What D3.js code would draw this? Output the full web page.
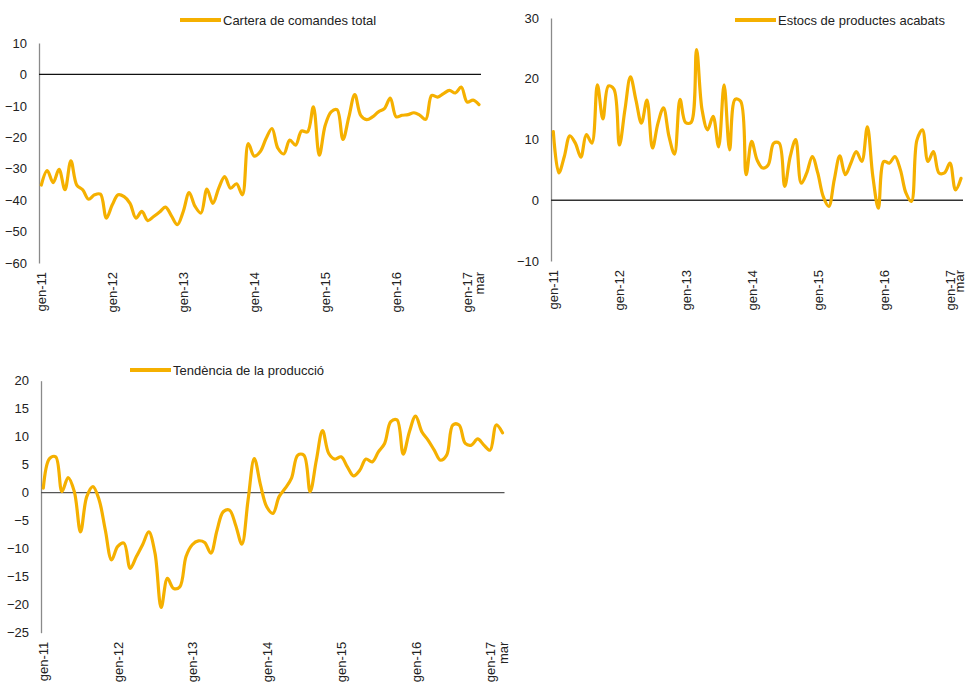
<!DOCTYPE html>
<html lang="ca">
<head>
<meta charset="utf-8">
<title>Indicadors de la indústria</title>
<script src="https://cdn.jsdelivr.net/npm/d3@7"></script>
<style>
  body { margin: 0; background: #fff; }
  svg { display: block; font-family: "Liberation Sans", Arial, sans-serif; }
  text { fill: #222; }
</style>
</head>
<body>
<svg id="chart" width="966" height="685"></svg>
<script>
// monthly categories, gen-11 .. mar-17
var monthNames = ['gen', 'feb', 'mar', 'abr', 'mai', 'jun', 'jul', 'ago', 'set', 'oct', 'nov', 'des'];
var years = ['11', '12', '13', '14', '15', '16', '17'];
var lastMonth = 'mar-17';

var categories = [];
years.forEach(function(y) {
  monthNames.forEach(function(m) {
    if (categories.indexOf(lastMonth) === -1) categories.push(m + '-' + y);
  });
});

// tick labels shown on the category axis
var tickLabels = ['gen-11', 'gen-12', 'gen-13', 'gen-14', 'gen-15', 'gen-16', 'gen-17', 'mar-17'];

var carteraComandes = [
  -35.2, -30.6, -34.4, -30.2, -36.7, -27.5, -35.2, -36.7, -39.7, -38.3, -38.1, -45.7,
  -41.5, -38.3, -38.9, -41.0, -45.7, -43.6, -46.5, -45.2, -43.8, -42.2, -45.0, -47.8,
  -43.6, -37.6, -42.0, -44.1, -36.5, -41.0, -36.2, -32.5, -36.2, -34.8, -38.3, -22.0,
  -26.0, -24.6, -20.4, -17.2, -23.5, -25.3, -20.9, -22.5, -18.0, -18.3, -10.3, -25.7,
  -16.2, -11.9, -11.2, -20.7, -13.5, -6.4, -13.0, -14.4, -13.5, -11.9, -10.9, -7.5,
  -13.5, -13.0, -12.8, -12.2, -13.0, -14.3, -6.7, -7.2, -6.1, -5.1, -5.9, -4.0,
  -8.8, -8.2, -9.6
];

var estocsProductes = [
  11.3, 4.5, 7.2, 10.6, 9.4, 7.1, 10.8, 9.4, 19.0, 13.4, 18.8, 18.3,
  9.1, 14.9, 20.3, 16.5, 12.7, 16.5, 8.6, 12.7, 15.2, 10.5, 7.6, 16.6,
  12.8, 12.8, 24.8, 14.9, 11.6, 13.8, 8.8, 19.0, 8.3, 16.6, 16.3, 4.2,
  9.7, 6.6, 5.3, 5.8, 9.4, 9.4, 2.3, 7.2, 10.0, 2.8, 4.5, 7.2,
  4.5, 0.6, -1.0, 3.4, 7.3, 4.2, 6.1, 8.0, 6.4, 12.1, 3.9, -1.3,
  6.4, 6.1, 7.2, 5.0, 1.2, -0.2, 9.9, 11.6, 6.4, 8.0, 4.5, 4.5,
  6.1, 1.7, 3.6
];

var tendenciaProduccio = [
  0.8, 6.1, 6.4, 0.2, 2.7, 0.2, -7.0, -0.7, 1.1, -1.3, -6.7, -12.0,
  -9.6, -9.0, -13.5, -11.4, -9.3, -7.0, -10.8, -20.5, -15.3, -17.1, -16.8, -11.4,
  -9.3, -8.6, -8.9, -10.8, -6.7, -3.4, -3.1, -5.8, -9.2, -1.3, 6.1, 1.4,
  -2.5, -3.7, -0.7, 0.8, 2.6, 6.7, 6.7, 0.2, 5.8, 11.1, 7.0, 6.0,
  6.4, 4.6, 3.0, 4.0, 6.0, 5.5, 7.3, 8.8, 12.7, 13.0, 6.9, 10.9,
  13.7, 10.9, 9.4, 7.6, 5.8, 6.7, 12.1, 12.1, 8.8, 8.5, 9.6, 8.5,
  7.6, 12.1, 10.7
];

var ticksCartera = [10, 0, -10, -20, -30, -40, -50, -60];
var ticksEstocs = [30, 20, 10, 0, -10];
var ticksTendencia = [20, 15, 10, 5, 0, -5, -10, -15, -20, -25];

var lineColor = '#f5b000';
var svg = d3.select('#chart');

function drawChart(opts) {
  var g = svg.append('g');

  var x = d3.scalePoint()
    .domain(categories)
    .range([opts.left + 2.3, opts.right]);
  var y = d3.scaleLinear()
    .domain(d3.extent(opts.ticks))
    .range([opts.bottom, opts.top]);

  // y axis, no tick marks, labels only
  var yAxis = d3.axisLeft(y).tickValues(opts.ticks).tickSize(0).tickPadding(12);
  var ya = g.append('g')
    .attr('transform', 'translate(' + opts.left + ',0)')
    .call(yAxis);
  ya.select('.domain').attr('stroke', '#8a8a8a').attr('stroke-width', 1.3);
  ya.selectAll('text')
    .attr('font-size', 13)
    .attr('font-family', '"Liberation Sans", Arial, sans-serif')
    .attr('fill', '#222');

  // zero line
  g.append('line')
    .attr('x1', opts.left).attr('x2', opts.right + 2)
    .attr('y1', y(0)).attr('y2', y(0))
    .attr('stroke', opts.zeroColor)
    .attr('stroke-width', 1.3);

  // category labels, rotated, under the plot
  var xAxis = d3.axisBottom(x)
    .tickValues(tickLabels)
    .tickSize(0)
    .tickFormat(function(d) { return d === lastMonth ? 'mar' : d; });
  var xa = g.append('g')
    .attr('transform', 'translate(0,' + opts.bottom + ')')
    .call(xAxis);
  xa.select('.domain').remove();
  xa.selectAll('text')
    .attr('font-size', 13)
    .attr('font-family', '"Liberation Sans", Arial, sans-serif')
    .attr('fill', '#222')
    .attr('transform', 'rotate(-90)')
    .attr('text-anchor', 'end')
    .attr('x', -9)
    .attr('y', 0)
    .attr('dy', function(d) { return d === lastMonth ? opts.lastDy : '0.35em'; });

  // the series
  var line = d3.line()
    .x(function(d, i) { return x(categories[i]); })
    .y(function(d) { return y(d); })
    .curve(d3.curveCatmullRom.alpha(0.5));

  g.append('path')
    .datum(opts.values)
    .attr('fill', 'none')
    .attr('stroke', lineColor)
    .attr('stroke-width', 3.2)
    .attr('stroke-linejoin', 'round')
    .attr('stroke-linecap', 'round')
    .attr('d', line);

  // legend
  g.append('line')
    .attr('x1', opts.legendX).attr('x2', opts.legendX + 41)
    .attr('y1', opts.legendY).attr('y2', opts.legendY)
    .attr('stroke', lineColor)
    .attr('stroke-width', 4);
  g.append('text')
    .attr('x', opts.legendX + 43)
    .attr('y', opts.legendY + 5)
    .attr('font-size', 13)
    .text(opts.title);
}

drawChart({
  title: 'Cartera de comandes total',
  values: carteraComandes,
  ticks: ticksCartera,
  left: 39, right: 479, top: 43, bottom: 263,
  zeroColor: '#111', lastDy: '0.35em',
  legendX: 180, legendY: 20
});

drawChart({
  title: 'Estocs de productes acabats',
  values: estocsProductes,
  ticks: ticksEstocs,
  left: 551, right: 961, top: 18, bottom: 261,
  zeroColor: '#333', lastDy: '0.2em',
  legendX: 735, legendY: 20
});

drawChart({
  title: 'Tendència de la producció',
  values: tendenciaProduccio,
  ticks: ticksTendencia,
  left: 41, right: 502.5, top: 380.7, bottom: 632.7,
  zeroColor: '#555', lastDy: '0.35em',
  legendX: 130, legendY: 370
});
</script>
</body>
</html>
